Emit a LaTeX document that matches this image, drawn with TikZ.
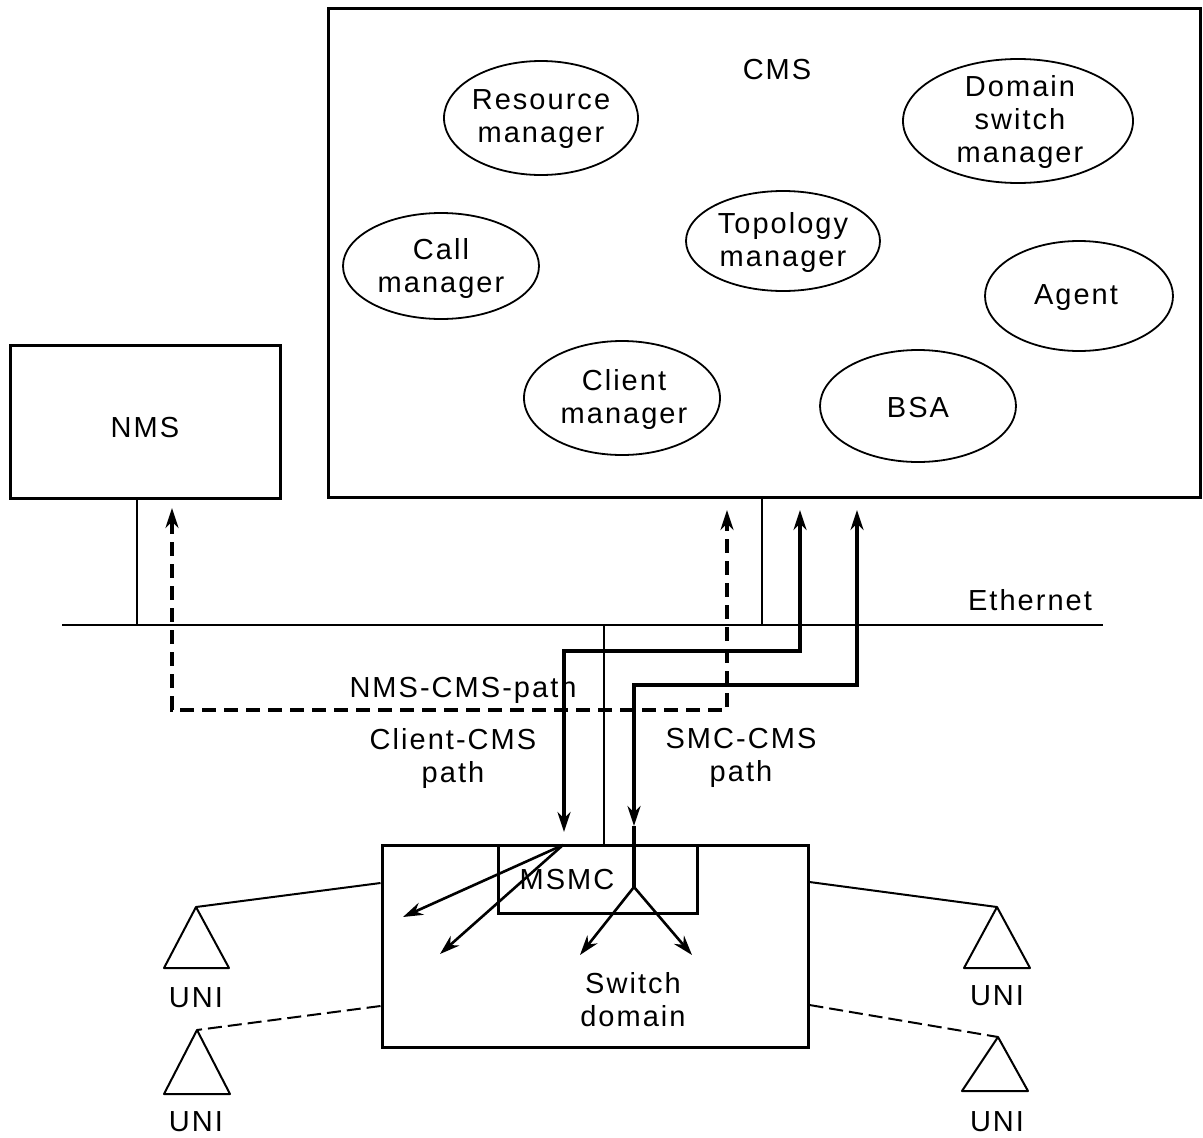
\documentclass[tikz,border=0pt]{standalone}
\usepackage{fontspec}
\setmainfont{Liberation Sans}[LetterSpace=7]
\usetikzlibrary{arrows.meta,shapes.geometric}
\begin{document}
\begin{tikzpicture}[x=1pt,y=-1pt,
  box/.style={draw,line width=3pt,inner sep=0pt},
  ell/.style={draw,ellipse,line width=1.8pt,inner sep=0pt},
  txt/.style={font=\fontsize{29}{33}\selectfont,align=center,inner sep=0pt},
  thinline/.style={line width=1.6pt},
  cmspath/.style={line width=3.2pt},
  tip/.style={line width=2.6pt},
  arr/.tip={Stealth[length=20pt,width=13pt]},
  uni/.style={line width=2pt,line join=round}
]
\useasboundingbox (0,0) rectangle (1203,1138);

% CMS box and contents
\node[box,minimum width=872pt,minimum height=489pt] (cms) at (764,252.5) {};
\node[txt] (cmslbl) at (777,70) {CMS};
\node[ell,minimum width=194pt,minimum height=114pt] (rm) at (541,118) {};
\node[txt] (rmt) at (541,119) {Resource\\manager};
\node[ell,minimum width=230pt,minimum height=124pt] (dsm) at (1018,121) {};
\node[txt] (dsmt) at (1020,122) {Domain\\switch\\manager};
\node[ell,minimum width=194pt,minimum height=100pt] (tm) at (783,241) {};
\node[txt] (tmt) at (783,242) {Topology\\manager};
\node[ell,minimum width=196pt,minimum height=106pt] (cm) at (441,266) {};
\node[txt] (cmt) at (441,268) {Call\\manager};
\node[ell,minimum width=188pt,minimum height=110pt] (ag) at (1079,296) {};
\node[txt] (agt) at (1076,298) {Agent};
\node[ell,minimum width=196pt,minimum height=114pt] (clm) at (622,398) {};
\node[txt] (clmt) at (624,399) {Client\\manager};
\node[ell,minimum width=196pt,minimum height=112pt] (bsa) at (918,406) {};
\node[txt] (bsat) at (918,408) {BSA};

% NMS
\node[box,minimum width=270pt,minimum height=153pt] (nms) at (145,421.5) {};
\node[txt] (nmst) at (145,428) {NMS};

% Ethernet
\coordinate (ethL) at (62,625);
\coordinate (ethR) at (1103,625);
\draw[line width=2.4pt] (ethL) -- (ethR);
\node[txt] (etht) at (1030,600) {Ethernet};

% drops to Ethernet
\draw[thinline] (nms.south -| 137,0) -- (ethL -| 137,0);
\draw[thinline] (cms.south -| 762,0) -- (ethL -| 762,0);

% Switch domain and MSMC
\node[box,minimum width=426pt,minimum height=202pt] (sd) at (595,946) {};
\node[box,minimum width=199pt,minimum height=68pt] (msmc) at (597.5,879) {};
\node[txt] (msmct) at (567,880) {MSMC};
\node[txt] (sdt) at (633,1000) {Switch\\domain};
\draw[thinline] (ethL -| 604,0) -- (sd.north -| 604,0);

% NMS-CMS path
\coordinate (p1a) at (172,508);
\coordinate (p1b) at (727,510);
\draw[cmspath,dashed,dash pattern=on 14pt off 8pt,{arr}-{arr}] (p1a) |- (p1b |- 0,710) -- (p1b);
\node[txt] (p1t) at (463,690) {NMS-CMS-path};

% Client-CMS path
\coordinate (p2a) at (800,510);
\coordinate (p2b) at (564,832);
\draw[cmspath,{arr}-{arr}] (p2a) |- (p2b |- 0,651) -- (p2b);
\coordinate (p2c) at (563,845);
\coordinate (p2d) at (403,917);
\coordinate (p2e) at (440,954);
\draw[tip,-{arr}] (p2c) -- (p2d);
\draw[tip,-{arr}] (p2c) -- (p2e);
\node[txt] (p2t) at (453,758) {Client-CMS\\path};

% SMC-CMS path
\coordinate (p3a) at (857,510);
\coordinate (p3b) at (634,826);
\coordinate (p3c) at (634,887);
\draw[cmspath,{arr}-{arr}] (p3a) |- (p3b |- 0,685) -- (p3b);
\draw[cmspath] (p3b) -- (p3c);
\coordinate (p3d) at (580,955);
\coordinate (p3e) at (692,955);
\draw[tip,-{arr}] (p3c) -- (p3d);
\draw[tip,-{arr}] (p3c) -- (p3e);
\node[txt] (p3t) at (741,758) {SMC-CMS\\path};

% UNIs
\coordinate (u1) at (196,907);
\draw[uni] (u1) -- (164,968) -- (229,968) -- cycle;
\node[txt] (u1t) at (196,998) {UNI};
\coordinate (u2) at (197,1030);
\draw[uni] (u2) -- (164,1094) -- (230,1094) -- cycle;
\node[txt] (u2t) at (196,1122) {UNI};
\coordinate (u3) at (997,907);
\draw[uni] (u3) -- (964,968) -- (1030,968) -- cycle;
\node[txt] (u3t) at (997,996) {UNI};
\coordinate (u4) at (998,1037);
\draw[uni] (u4) -- (962,1091) -- (1028,1091) -- cycle;
\node[txt] (u4t) at (997,1122) {UNI};

\draw[line width=2pt] (sd.west |- 0,883) -- (u1);
\draw[line width=2pt,dashed,dash pattern=on 14pt off 6pt] (sd.west |- 0,1006) -- (u2);
\draw[line width=2pt] (sd.east |- 0,882) -- (u3);
\draw[line width=2pt,dashed,dash pattern=on 14pt off 6pt] (sd.east |- 0,1005) -- (u4);
\end{tikzpicture}
\end{document}
